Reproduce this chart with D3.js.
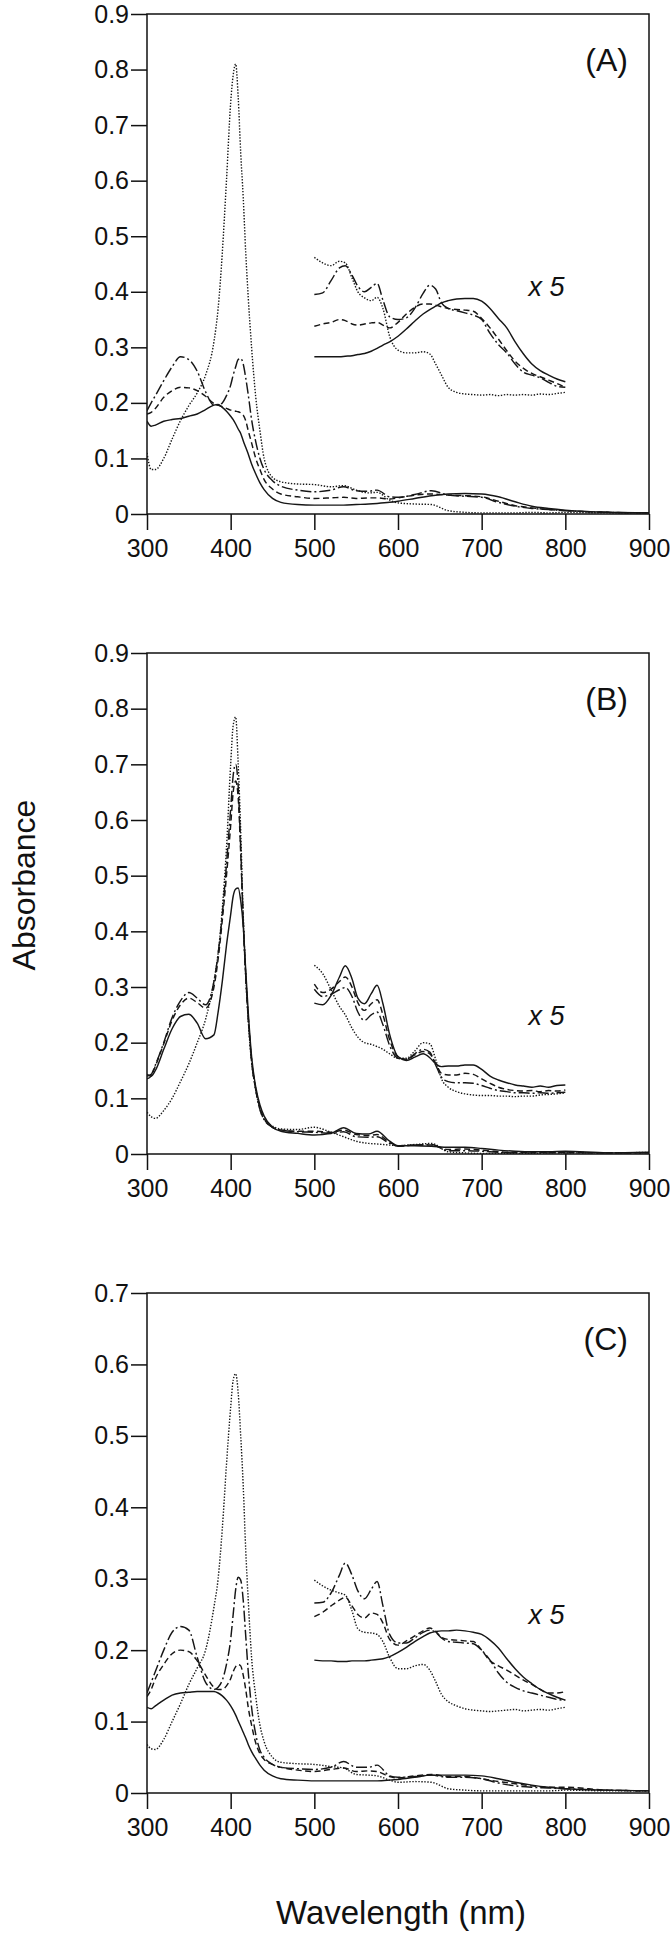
<!DOCTYPE html>
<html><head><meta charset="utf-8">
<script src="https://cdn.jsdelivr.net/npm/d3@7"></script>
<style>
body{margin:0;background:#fff}
svg{display:block}
text{font-family:"Liberation Sans",Arial,Helvetica,sans-serif;fill:#111}
</style>
</head><body><svg id="chart" width="670" height="1943"></svg>
<script>
// ---------- DATA ----------
const WL_MAIN = [300,305,310,320,330,340,350,360,370,380,385,390,395,400,403,406,409,412,415,418,421,425,430,435,440,450,460,480,500,520,535,550,565,575,590,600,620,640,660,680,700,720,740,760,780,800,850,900];
const WL_X5 = [500,510,520,530,537,545,552,560,568,575,582,590,600,610,620,630,638,645,652,660,670,680,690,700,710,720,730,740,750,760,770,780,790,800];

// Panel A (main spectra)
const A_SOLID   = [0.167,0.158,0.16,0.167,0.17,0.172,0.176,0.18,0.188,0.196,0.197,0.192,0.185,0.176,0.17,0.162,0.153,0.145,0.132,0.12,0.108,0.09,0.072,0.056,0.044,0.028,0.021,0.017,0.016,0.016,0.016,0.017,0.018,0.019,0.021,0.023,0.028,0.033,0.036,0.037,0.036,0.031,0.022,0.014,0.01,0.007,0.003,0.002];
const A_DASHED  = [0.18,0.183,0.19,0.21,0.222,0.228,0.227,0.222,0.212,0.199,0.196,0.193,0.19,0.187,0.186,0.185,0.184,0.182,0.178,0.168,0.15,0.128,0.10,0.08,0.062,0.045,0.036,0.031,0.028,0.029,0.03,0.028,0.029,0.029,0.027,0.029,0.034,0.036,0.034,0.033,0.031,0.023,0.015,0.011,0.008,0.006,0.003,0.002];
const A_DASHDOT = [0.186,0.20,0.213,0.24,0.265,0.283,0.278,0.257,0.22,0.196,0.196,0.20,0.213,0.232,0.25,0.265,0.278,0.28,0.27,0.245,0.215,0.17,0.13,0.10,0.08,0.06,0.05,0.043,0.04,0.043,0.049,0.042,0.041,0.043,0.031,0.03,0.035,0.042,0.034,0.032,0.03,0.021,0.014,0.01,0.008,0.006,0.003,0.002];
const A_DOTTED  = [0.11,0.08,0.08,0.10,0.135,0.168,0.195,0.218,0.25,0.31,0.37,0.47,0.60,0.74,0.79,0.81,0.75,0.65,0.57,0.47,0.39,0.30,0.21,0.15,0.10,0.066,0.058,0.054,0.053,0.049,0.051,0.043,0.038,0.039,0.025,0.02,0.018,0.017,0.006,0.003,0.002,0.002,0.002,0.003,0.002,0.003,0.002,0.002];
// Panel A (x 5 inset)
const A_SOLID_X5   = [0.283,0.283,0.283,0.283,0.284,0.285,0.287,0.289,0.293,0.298,0.304,0.31,0.32,0.333,0.347,0.36,0.368,0.374,0.38,0.384,0.387,0.388,0.388,0.383,0.37,0.352,0.335,0.31,0.288,0.27,0.258,0.25,0.243,0.238];
const A_DASHED_X5  = [0.338,0.342,0.345,0.35,0.348,0.342,0.34,0.342,0.344,0.345,0.34,0.335,0.345,0.36,0.372,0.378,0.378,0.376,0.373,0.37,0.368,0.367,0.365,0.352,0.335,0.315,0.294,0.275,0.262,0.253,0.247,0.241,0.235,0.228];
const A_DASHDOT_X5 = [0.395,0.398,0.42,0.443,0.447,0.43,0.41,0.40,0.408,0.415,0.385,0.355,0.35,0.353,0.37,0.397,0.412,0.405,0.38,0.37,0.366,0.362,0.358,0.35,0.325,0.305,0.29,0.27,0.255,0.25,0.245,0.237,0.23,0.228];
const A_DOTTED_X5  = [0.462,0.452,0.447,0.455,0.452,0.425,0.40,0.389,0.384,0.39,0.37,0.32,0.295,0.29,0.29,0.292,0.288,0.27,0.25,0.228,0.219,0.216,0.215,0.214,0.215,0.213,0.215,0.214,0.215,0.214,0.216,0.215,0.217,0.219];

// Panel B (main spectra)
const B_SOLID   = [0.143,0.14,0.15,0.188,0.225,0.247,0.251,0.235,0.207,0.214,0.255,0.31,0.375,0.43,0.463,0.476,0.478,0.455,0.41,0.33,0.255,0.175,0.12,0.088,0.068,0.048,0.041,0.037,0.034,0.037,0.047,0.037,0.036,0.041,0.023,0.015,0.015,0.014,0.012,0.012,0.01,0.007,0.005,0.004,0.004,0.005,0.002,0.003];
const B_DASHED  = [0.135,0.14,0.158,0.198,0.24,0.268,0.28,0.272,0.262,0.30,0.35,0.42,0.50,0.59,0.65,0.67,0.64,0.54,0.42,0.32,0.245,0.168,0.116,0.082,0.064,0.048,0.043,0.041,0.041,0.039,0.043,0.035,0.033,0.035,0.021,0.015,0.016,0.016,0.008,0.009,0.007,0.004,0.003,0.003,0.003,0.003,0.002,0.002];
const B_DASHDOT = [0.14,0.143,0.16,0.2,0.245,0.275,0.29,0.28,0.268,0.31,0.36,0.43,0.52,0.62,0.68,0.70,0.66,0.55,0.42,0.32,0.245,0.168,0.115,0.08,0.062,0.048,0.043,0.04,0.039,0.037,0.04,0.031,0.03,0.031,0.019,0.014,0.016,0.017,0.006,0.006,0.005,0.003,0.002,0.002,0.002,0.002,0.002,0.002];
const B_DOTTED  = [0.075,0.067,0.064,0.078,0.10,0.13,0.162,0.2,0.242,0.31,0.36,0.44,0.55,0.70,0.77,0.785,0.70,0.58,0.43,0.32,0.24,0.165,0.115,0.08,0.062,0.05,0.045,0.044,0.048,0.039,0.031,0.023,0.019,0.018,0.016,0.015,0.017,0.019,0.004,0.002,0.001,0.001,0.001,0.001,0.002,0.002,0.002,0.003];
// Panel B (x 5 inset)
const B_SOLID_X5   = [0.271,0.268,0.285,0.318,0.338,0.315,0.28,0.27,0.288,0.303,0.27,0.215,0.175,0.168,0.174,0.18,0.173,0.162,0.157,0.158,0.158,0.16,0.16,0.152,0.14,0.133,0.128,0.124,0.122,0.12,0.122,0.12,0.123,0.124];
const B_DASHED_X5  = [0.305,0.29,0.296,0.31,0.318,0.30,0.272,0.258,0.27,0.277,0.25,0.205,0.175,0.17,0.178,0.184,0.18,0.163,0.145,0.142,0.142,0.145,0.143,0.135,0.127,0.12,0.116,0.114,0.113,0.114,0.112,0.114,0.113,0.115];
const B_DASHDOT_X5 = [0.296,0.283,0.287,0.295,0.299,0.283,0.255,0.24,0.25,0.255,0.232,0.195,0.172,0.17,0.18,0.188,0.183,0.16,0.138,0.13,0.128,0.128,0.127,0.123,0.118,0.114,0.112,0.11,0.11,0.109,0.11,0.109,0.11,0.111];
const B_DOTTED_X5  = [0.339,0.324,0.295,0.265,0.25,0.226,0.21,0.20,0.197,0.193,0.188,0.18,0.172,0.172,0.185,0.20,0.198,0.17,0.135,0.12,0.112,0.108,0.106,0.105,0.105,0.104,0.104,0.103,0.104,0.104,0.106,0.107,0.108,0.11];

// Panel C (main spectra)
const C_SOLID   = [0.12,0.118,0.122,0.13,0.137,0.14,0.141,0.142,0.142,0.142,0.14,0.136,0.13,0.122,0.116,0.109,0.101,0.093,0.085,0.077,0.068,0.058,0.048,0.039,0.032,0.024,0.02,0.018,0.017,0.017,0.017,0.017,0.017,0.017,0.018,0.019,0.022,0.025,0.025,0.025,0.024,0.02,0.015,0.011,0.008,0.006,0.004,0.003];
const C_DASHED  = [0.135,0.145,0.16,0.18,0.195,0.2,0.198,0.185,0.165,0.148,0.145,0.145,0.15,0.16,0.17,0.177,0.18,0.178,0.165,0.145,0.12,0.095,0.07,0.055,0.047,0.04,0.036,0.032,0.03,0.033,0.035,0.03,0.031,0.03,0.023,0.021,0.024,0.026,0.023,0.023,0.02,0.016,0.013,0.01,0.008,0.008,0.004,0.003];
const C_DASHDOT = [0.14,0.155,0.17,0.2,0.225,0.233,0.228,0.19,0.155,0.145,0.148,0.158,0.18,0.215,0.25,0.285,0.302,0.298,0.27,0.22,0.17,0.12,0.082,0.06,0.05,0.04,0.036,0.034,0.033,0.036,0.044,0.036,0.036,0.039,0.024,0.022,0.023,0.025,0.022,0.022,0.02,0.014,0.01,0.008,0.007,0.006,0.004,0.003];
const C_DOTTED  = [0.068,0.062,0.061,0.075,0.1,0.125,0.152,0.175,0.2,0.26,0.3,0.37,0.46,0.54,0.578,0.587,0.56,0.5,0.43,0.34,0.27,0.19,0.135,0.095,0.072,0.05,0.043,0.041,0.04,0.037,0.035,0.026,0.025,0.024,0.018,0.015,0.016,0.015,0.006,0.004,0.003,0.003,0.003,0.003,0.003,0.004,0.003,0.003];
// Panel C (x 5 inset)
const C_SOLID_X5   = [0.186,0.185,0.185,0.184,0.184,0.185,0.185,0.185,0.186,0.187,0.188,0.191,0.197,0.204,0.212,0.219,0.224,0.226,0.227,0.227,0.228,0.227,0.225,0.222,0.214,0.203,0.188,0.174,0.162,0.153,0.145,0.139,0.134,0.13];
const C_DASHED_X5  = [0.247,0.253,0.262,0.27,0.274,0.262,0.25,0.245,0.252,0.25,0.238,0.215,0.207,0.213,0.22,0.227,0.231,0.226,0.218,0.215,0.214,0.213,0.212,0.2,0.185,0.178,0.172,0.165,0.158,0.152,0.145,0.14,0.14,0.142];
const C_DASHDOT_X5 = [0.266,0.267,0.28,0.305,0.322,0.305,0.283,0.272,0.285,0.296,0.262,0.222,0.21,0.21,0.217,0.225,0.228,0.225,0.217,0.212,0.211,0.21,0.209,0.2,0.186,0.168,0.155,0.148,0.143,0.14,0.137,0.134,0.131,0.13];
const C_DOTTED_X5  = [0.298,0.29,0.284,0.28,0.277,0.255,0.23,0.225,0.224,0.222,0.212,0.19,0.174,0.174,0.178,0.18,0.172,0.156,0.138,0.128,0.122,0.118,0.116,0.115,0.114,0.115,0.116,0.117,0.115,0.116,0.117,0.116,0.118,0.12];

const X_TICKS = [300,400,500,600,700,800,900];
const Y_TICKS_AB = [0,0.1,0.2,0.3,0.4,0.5,0.6,0.7,0.8,0.9];
const Y_TICKS_C = [0,0.1,0.2,0.3,0.4,0.5,0.6,0.7];
const PANEL_NAMES = ["(A)","(B)","(C)"];
const X5_LABEL = "x 5";
const X5_LABEL_Y = [0.41,0.25,0.25];
const X_LABEL = "Wavelength (nm)";
const Y_LABEL = "Absorbance";

// ---------- LAYOUT ----------
const svg = d3.select("#chart");
const left = 147, right = 649;
const panels = [
  {name:PANEL_NAMES[0], top:14,   bottom:514,  yTicks:Y_TICKS_AB, yMax:0.9, main:[A_SOLID,A_DASHED,A_DASHDOT,A_DOTTED], x5:[A_SOLID_X5,A_DASHED_X5,A_DASHDOT_X5,A_DOTTED_X5], x5y:X5_LABEL_Y[0]},
  {name:PANEL_NAMES[1], top:653,  bottom:1154, yTicks:Y_TICKS_AB, yMax:0.9, main:[B_SOLID,B_DASHED,B_DASHDOT,B_DOTTED], x5:[B_SOLID_X5,B_DASHED_X5,B_DASHDOT_X5,B_DOTTED_X5], x5y:X5_LABEL_Y[1]},
  {name:PANEL_NAMES[2], top:1293, bottom:1793, yTicks:Y_TICKS_C,  yMax:0.7, main:[C_SOLID,C_DASHED,C_DASHDOT,C_DOTTED], x5:[C_SOLID_X5,C_DASHED_X5,C_DASHDOT_X5,C_DOTTED_X5], x5y:X5_LABEL_Y[2]}
];
const DASHES = [null, "6,3.5", "11,3,2,3", "1.4,1.6"];
const WIDTHS = [1.45, 1.45, 1.45, 1.4];

const x = d3.scaleLinear().domain([300,900]).range([left,right]);
const fmt = d => d === 0 ? "0" : d3.format(".1f")(d);
const defs = svg.append("defs");

panels.forEach((p,pi) => {
  const y = d3.scaleLinear().domain([0,p.yMax]).range([p.bottom,p.top]);
  const g = svg.append("g");

  const clipId = "clip"+pi;
  defs.append("clipPath").attr("id",clipId)
    .append("rect").attr("x",left).attr("y",p.top).attr("width",right-left).attr("height",p.bottom-p.top);

  // axes
  const yAxis = d3.axisLeft(y).tickValues(p.yTicks).tickSize(16).tickPadding(2).tickFormat(fmt);
  const gy = g.append("g").attr("transform",`translate(${left},0)`).call(yAxis);
  const xAxis = d3.axisBottom(x).tickValues(X_TICKS).tickSize(16).tickPadding(9).tickFormat(d3.format("d"));
  const gx = g.append("g").attr("transform",`translate(0,${p.bottom})`).call(xAxis);
  [gx,gy].forEach(a => {
    a.select(".domain").remove();
    a.selectAll(".tick line").attr("stroke","#111").attr("stroke-width",1.5);
    a.selectAll(".tick text").style("font-size","25px").attr("fill","#111");
  });
  // frame
  g.append("rect").attr("x",left).attr("y",p.top).attr("width",right-left).attr("height",p.bottom-p.top)
    .attr("fill","none").attr("stroke","#111").attr("stroke-width",1.5);

  const line = d3.line().x(d => x(d[0])).y(d => y(d[1])).curve(d3.curveMonotoneX);
  const lines = g.append("g").attr("clip-path",`url(#${clipId})`);
  p.main.forEach((vals,si) => {
    lines.append("path").datum(WL_MAIN.map((w,i)=>[w,vals[i]]))
      .attr("d",line).attr("fill","none").attr("stroke","#161616")
      .attr("stroke-width",WIDTHS[si]).attr("stroke-dasharray",DASHES[si]);
  });
  p.x5.forEach((vals,si) => {
    lines.append("path").datum(WL_X5.map((w,i)=>[w,vals[i]]))
      .attr("d",line).attr("fill","none").attr("stroke","#161616")
      .attr("stroke-width",WIDTHS[si]).attr("stroke-dasharray",DASHES[si]);
  });

  // labels
  g.append("text").attr("x",628).attr("y",p.top+46).attr("dy","0.35em")
    .attr("text-anchor","end").style("font-size","32px").text(p.name);
  g.append("text").attr("x",x(756)).attr("y",y(p.x5y)).attr("dy","0.36em")
    .style("font-size","27px").style("font-style","italic").text(X5_LABEL);
});

svg.append("text").attr("transform","translate(35,885) rotate(-90)")
  .attr("text-anchor","middle").style("font-size","32px").text(Y_LABEL);
svg.append("text").attr("x",401).attr("y",1924)
  .attr("text-anchor","middle").style("font-size","33px").text(X_LABEL);
</script>
</body></html>
